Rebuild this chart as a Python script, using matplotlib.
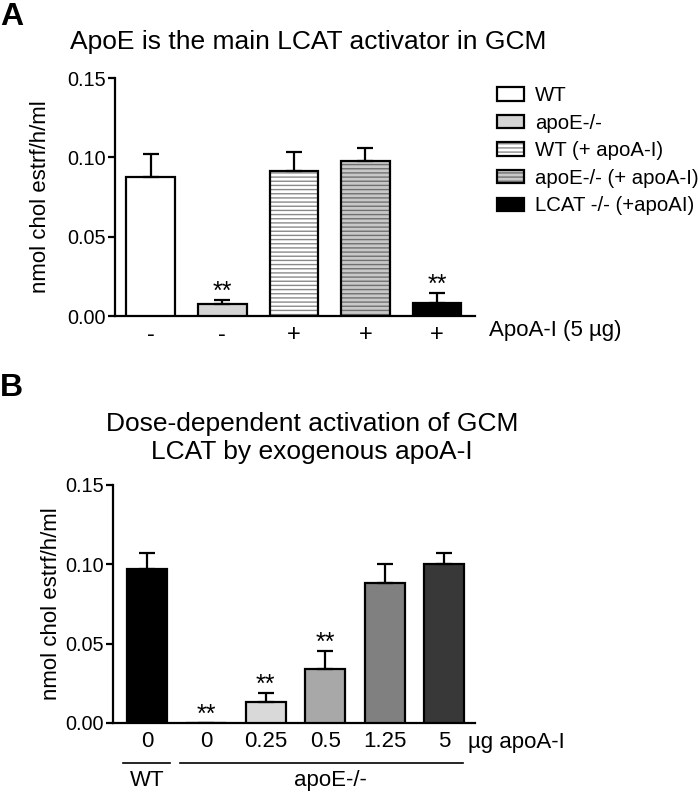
import matplotlib
matplotlib.use("Agg")
import matplotlib.pyplot as plt
from matplotlib.patches import Patch
from matplotlib.legend_handler import HandlerTuple
import numpy as np

plt.rcParams['font.family'] = ['Liberation Sans', 'DejaVu Sans']
plt.rcParams['hatch.linewidth'] = 1.0

# ---------------- Data ----------------
# Panel A
a_groups = ["WT", "apoE-/-", "WT (+ apoA-I)", "apoE-/- (+ apoA-I)", "LCAT -/- (+apoAI)"]
a_ticklabels = ["-", "-", "+", "+", "+"]
a_values = [0.0876, 0.0076, 0.0914, 0.0980, 0.0082]
a_errors = [0.0145, 0.0026, 0.0122, 0.0080, 0.0063]
a_sig = ["", "**", "", "", "**"]

# Panel B
b_doses = ["0", "0", "0.25", "0.5", "1.25", "5"]
b_values = [0.0970, 0.0, 0.0132, 0.0340, 0.0882, 0.0999]
b_errors = [0.0102, np.nan, 0.0057, 0.0114, 0.0117, 0.0075]
b_sig = ["", "**", "**", "**", "", ""]

W, H = 698, 793
fig = plt.figure(figsize=(W / 100, H / 100), dpi=100)

def ax_rect(l, r, t, b):
    return [l / W, 1 - b / H, (r - l) / W, (b - t) / H]

LW = 1.6
TICK_FS = 14.3
LAB_FS = 16
STAR_FS = 18
CAP = 5.5

def style_axis(ax):
    for s in ["top", "right"]:
        ax.spines[s].set_visible(False)
    for s in ["left", "bottom"]:
        ax.spines[s].set_linewidth(LW)
    ax.set_ylim(0, 0.15)
    ax.set_yticks([0.0, 0.05, 0.10, 0.15])
    ax.set_yticklabels(["0.00", "0.05", "0.10", "0.15"])
    ax.tick_params(axis='y', direction='out', length=5, width=LW, labelsize=TICK_FS, pad=1.5)
    ax.tick_params(axis='x', length=0, labelsize=TICK_FS)

# ---------------- Panel A ----------------
axA = fig.add_axes(ax_rect(115, 475, 78, 316))
style_axis(axA)
xa = np.arange(len(a_values))
bw = 0.68
a_styles = [
    dict(fc="white", hatch=None, hc=None),
    dict(fc="#d4d4d4", hatch=None, hc=None),
    dict(fc="white", hatch="----", hc="#8a8a8a"),
    dict(fc="#c8c8c8", hatch="----", hc="#707070"),
    dict(fc="black", hatch=None, hc=None),
]
handles = []
for i, st in enumerate(a_styles):
    if st["hatch"]:
        axA.bar(xa[i], a_values[i], width=bw, color=st["fc"], edgecolor=st["hc"],
                hatch=st["hatch"], linewidth=0, zorder=2)
        axA.bar(xa[i], a_values[i], width=bw, facecolor="none", edgecolor="black",
                linewidth=LW, zorder=3)
        h = (Patch(facecolor=st["fc"], edgecolor=st["hc"], hatch=st["hatch"], linewidth=0),
             Patch(facecolor="none", edgecolor="black", linewidth=LW))
    else:
        axA.bar(xa[i], a_values[i], width=bw, color=st["fc"], edgecolor="black",
                linewidth=LW, zorder=3)
        h = Patch(facecolor=st["fc"], edgecolor="black", linewidth=LW)
    handles.append(h)

axA.errorbar(xa, a_values, yerr=[np.zeros(len(a_values)), a_errors], fmt="none",
             ecolor="black", elinewidth=LW, capsize=CAP, capthick=LW, zorder=4)
for i, s in enumerate(a_sig):
    if s:
        axA.annotate(s, (xa[i], a_values[i] + a_errors[i]), xytext=(0, -3),
                     textcoords="offset points", ha="center", va="bottom", fontsize=STAR_FS)
axA.set_xlim(-0.5, 4.53)
axA.set_xticks(xa)
axA.set_xticklabels(a_ticklabels, fontsize=17)
axA.tick_params(axis='x', pad=6)
axA.text(1.04, -0.062, "ApoA-I (5 µg)", transform=axA.transAxes, ha="left", va="center",
         fontsize=LAB_FS)
axA.set_ylabel("nmol chol estrf/h/ml", fontsize=LAB_FS)
axA.yaxis.set_label_coords(-0.178, 0.5)

fig.legend(handles, a_groups, loc="upper left", bbox_to_anchor=(489 / W, 1 - 78 / H),
           frameon=False, fontsize=14.7, handlelength=1.32, handleheight=0.64,
           handletextpad=0.54, labelspacing=0.42, borderaxespad=0,
           handler_map={tuple: HandlerTuple(ndivide=1)})

fig.text(0.0, 1 - 17 / H, "A", fontsize=23, fontweight="bold", ha="left", va="center")
fig.text(308 / W, 1 - 42 / H, "ApoE is the main LCAT activator in GCM", fontsize=19,
         ha="center", va="center")

# ---------------- Panel B ----------------
axB = fig.add_axes(ax_rect(113, 475, 485, 723))
style_axis(axB)
xb = np.arange(len(b_values))
b_colors = ["black", "white", "#d9d9d9", "#a8a8a8", "#808080", "#383838"]
axB.bar(xb, b_values, width=0.67, color=b_colors, edgecolor="black", linewidth=LW, zorder=3)
axB.errorbar(xb, b_values, yerr=[np.zeros(len(b_values)), b_errors], fmt="none",
             ecolor="black", elinewidth=LW, capsize=CAP, capthick=LW, zorder=4)
for i, s in enumerate(b_sig):
    if s:
        top = b_values[i] + (0 if np.isnan(b_errors[i]) else b_errors[i])
        axB.annotate(s, (xb[i], top), xytext=(0, -3),
                     textcoords="offset points", ha="center", va="bottom", fontsize=STAR_FS)
axB.set_xlim(-0.57, 5.52)
axB.set_xticks(xb)
axB.set_xticklabels(b_doses, fontsize=LAB_FS)
axB.tick_params(axis='x', pad=6)
axB.text(5.4, -0.084, "µg apoA-I", transform=axB.get_xaxis_transform(), ha="left",
         va="center", fontsize=LAB_FS)
axB.set_ylabel("nmol chol estrf/h/ml", fontsize=LAB_FS)
axB.yaxis.set_label_coords(-0.14, 0.5)

tr = axB.get_xaxis_transform()
axB.plot([-0.40, 0.39], [-0.168, -0.168], color="black", lw=1.2, transform=tr, clip_on=False)
axB.plot([0.56, 5.32], [-0.168, -0.168], color="black", lw=1.2, transform=tr, clip_on=False)
axB.text(0.0, -0.24, "WT", transform=tr, ha="center", va="center", fontsize=LAB_FS)
axB.text(3.08, -0.24, "apoE-/-", transform=tr, ha="center", va="center", fontsize=LAB_FS)

fig.text(0.0, 1 - 388 / H, "B", fontsize=23, fontweight="bold", ha="left", va="center")
fig.text(312 / W, 1 - 438 / H, "Dose-dependent activation of GCM\nLCAT by exogenous apoA-I",
         fontsize=19, ha="center", va="center", linespacing=1.25)

fig.savefig("out.png", dpi=100)
